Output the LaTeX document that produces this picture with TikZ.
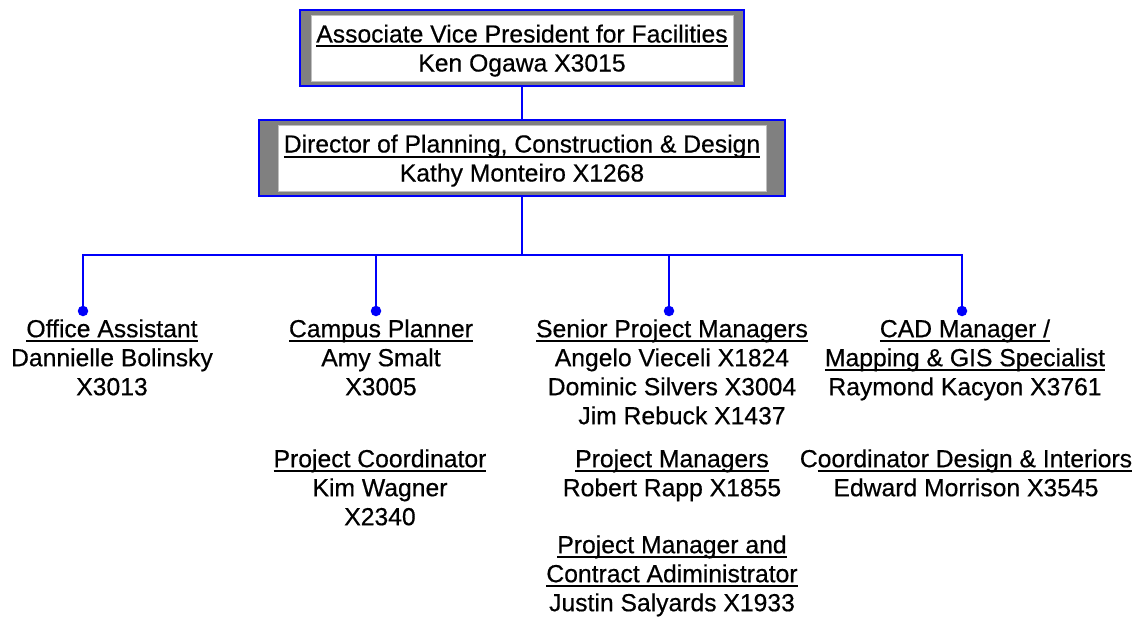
\documentclass[tikz,border=0pt]{standalone}
\usepackage{fontspec}
\setmainfont{Liberation Sans}[FakeBold=0.5]
\usepackage{tikz}
\definecolor{bl}{RGB}{0, 0, 250}
\definecolor{gr}{RGB}{128, 128, 128}
\usetikzlibrary{positioning}
\def\rowtop{316.7}
\newcommand{\jobtitle}[1]{\setbox0=\hbox{#1}\rlap{\rule[-5pt]{\wd0}{2pt}}\box0}
\tikzset{
	staff/.style={font=\fontsize{24.7}{29}\selectfont,align=center,inner sep=0pt,anchor=north},
	link/.style={draw=bl,line width=2.2pt},
	stemdot/.style={circle,fill=bl,inner sep=0pt,minimum size=10.5pt}
}
\newcommand{\headbox}[9]{\node[draw=bl,line width=2pt,fill=gr,minimum width=#4,minimum height=#5,inner sep=0pt] (#3) at (#1,#2) {};
	\node[fill=white,draw=gr!50,line width=0.5pt,minimum width=#6,minimum height=#7,inner sep=0pt] (#3-in) at (#3) {};
	\node[staff] (#3-txt) at ([yshift=26pt]#3-in.center) {\strut\jobtitle{#8}\\#9}; }

\begin{document}
\begin{tikzpicture}[x=1pt,y=-1pt]
				\path[use as bounding box,fill=white] (0,0) rectangle (1135,618);

				\headbox{522}{48}{avp}{444pt}{76pt}{422pt}{66pt}{Associate Vice President for Facilities}{Ken Ogawa X3015}
				\headbox{522}{158}{director}{526pt}{76pt}{488pt}{66pt}{Director of Planning, Construction \& Design}{Kathy Monteiro X1268}

				\coordinate (hub) at (522,255);
				\node[stemdot] (dot1) at (83,311) {};
				\node[stemdot] (dot2) at (376,311) {};
				\node[stemdot] (dot3) at (669,311) {};
				\node[stemdot] (dot4) at (962,311) {};

				\node[staff] (assistant) at (112,\rowtop) {\strut\jobtitle{Office Assistant}\\Dannielle Bolinsky\\X3013};
				\node[staff] (planner) at (381,\rowtop) {\strut\jobtitle{Campus Planner}\\Amy Smalt\\X3005};
				\node[staff] (coordinator) at (380,446.7) {\strut\jobtitle{Project Coordinator}\\Kim Wagner\\X2340};
				\node[staff] (seniorpm) at (672,\rowtop) {\strut\jobtitle{Senior Project Managers}\\Angelo Vieceli X1824\\Dominic Silvers X3004\\\hspace*{20pt}Jim Rebuck X1437};
				\node[staff] (pm) at (672,446.7) {\strut\jobtitle{Project Managers}\\Robert Rapp X1855};
				\node[staff] (contractpm) at (672,532.7) {\strut\jobtitle{Project Manager and}\\\jobtitle{Contract Adiministrator}\\Justin Salyards X1933};
				\node[staff] (cad) at (965,\rowtop) {\strut\jobtitle{CAD Manager /}\\\jobtitle{Mapping \& GIS Specialist}\\Raymond Kacyon X3761};
				\node[staff] (interiors) at (966,446.7) {\strut C\jobtitle{oordinator Design \& Interiors}\\Edward Morrison X3545};

				\draw[link] (avp) -- (director);
				\draw[link] (director) -- (hub);
				\draw[link] (hub) -| (dot1);
				\draw[link] (hub) -| (dot2);
				\draw[link] (hub) -| (dot3);
				\draw[link] (hub) -| (dot4);
			\end{tikzpicture}
\end{document}
